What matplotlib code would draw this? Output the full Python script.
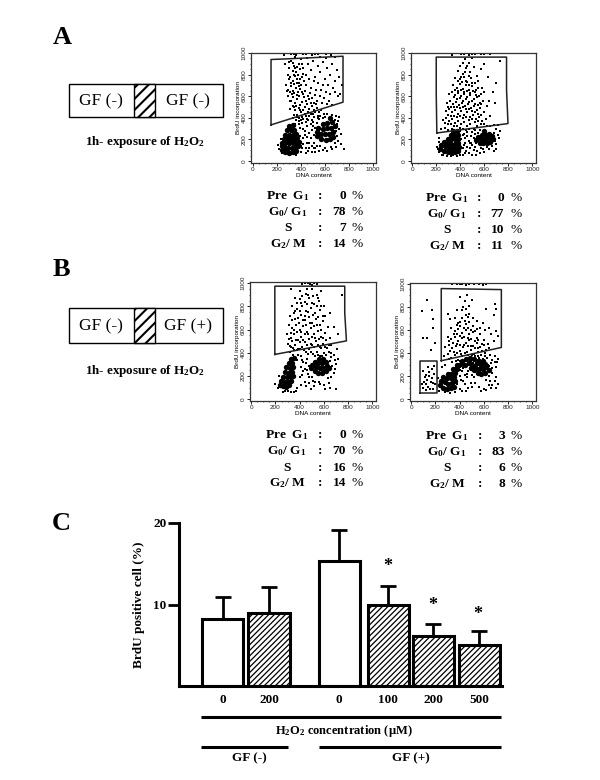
import numpy as np
import matplotlib
matplotlib.use('Agg')
import matplotlib.pyplot as plt
from matplotlib.patches import Rectangle

plt.rcParams['font.family'] = ['Liberation Serif', 'DejaVu Serif']
plt.rcParams['mathtext.fontset'] = 'custom'
plt.rcParams['mathtext.rm'] = 'Liberation Serif:bold'
plt.rcParams['mathtext.default'] = 'rm'

# bar chart values (panel C)
conc = ['0', '200', '0', '100', '200', '500']
brdu = [8.2, 9.0, 15.3, 10.0, 6.1, 5.0]
err_top = [10.9, 12.1, 19.1, 12.3, 7.6, 6.8]
hatched = [False, True, False, True, True, True]
bar_x = [223, 269, 339, 388, 433, 479]
star_x = [388, 433, 478]
star_y = [14.65, 9.85, 8.75]

# percentages under each cytogram
phases = ['Pre  G$_1$', 'G$_0$/ G$_1$', 'S', 'G$_2$/ M']
pct_a1 = [0, 78, 7, 14]
pct_a2 = [0, 77, 10, 11]
pct_b1 = [0, 70, 16, 14]
pct_b2 = [3, 83, 6, 8]

# cytogram gates
gate_a1 = [(150, 335), (150, 940), (270, 945), (750, 970), (750, 545), (150, 335)]
gate_a2 = [(205, 260), (200, 620), (200, 962), (785, 962), (785, 656), (797, 347), (205, 260)]
gate_b1 = [(195, 386), (195, 974), (772, 974), (772, 743), (786, 503), (195, 386)]
gate_b2 = [(248, 333), (248, 957), (744, 948), (744, 448), (248, 333)]
gate_b2_pre = [(74, 52), (74, 330), (212, 330), (212, 52), (74, 52)]

dense_a1 = [(245,100),(270,80),(300,75),(330,80),(355,90),(240,135),(265,125),(295,120),(325,120),(355,130),(375,140),(240,170),(270,165),(300,165),(330,165),(360,170),(380,180),
            (255,205),(285,205),(315,205),(345,205),(370,215),(270,245),(300,245),(330,245),(360,250),(285,285),(315,285),(345,290),(300,325),(330,330),
            (535,230),(570,200),(605,195),(640,205),(670,225),(530,270),(565,255),(600,250),(635,255),(670,270),(545,310),(580,300),(615,305),(650,310),(680,320),(585,345),(620,350),(655,360),(640,400)]
dense_a2 = [(235,110),(265,95),(295,85),(325,80),(355,85),(385,95),(240,145),(270,135),(300,125),(330,120),(360,125),(390,130),(265,175),(295,165),(325,160),(355,160),(385,170),
            (295,205),(325,200),(355,200),(385,205),(320,240),(350,240),(380,240),(340,275),(370,280),
            (530,195),(560,170),(590,165),(620,165),(650,180),(675,200),(545,220),(575,205),(605,205),(635,210),(665,230),(580,245),(610,245),(640,250),(600,275)]
dense_b1 = [(235,125),(260,110),(290,105),(315,120),(245,160),(275,150),(305,150),(330,160),(265,195),(295,190),(325,190),(345,200),(280,235),(310,230),(340,235),(290,275),(320,270),(345,280),(310,315),(340,315),(325,350),(350,355),
            (495,265),(525,240),(555,225),(585,225),(615,240),(640,265),(505,295),(535,275),(565,265),(595,270),(625,285),(525,325),(555,310),(585,310),(615,320),(560,345),(590,345)]
dense_b2 = [(240,125),(265,100),(295,90),(325,95),(350,110),(245,160),(275,145),(305,135),(335,140),(360,155),(265,195),(295,180),(325,180),(355,190),(300,220),(330,220),(360,225),
            (345,260),(375,265),(380,300),(410,305),(420,335),(450,345),(485,355),(520,345),(560,335),(440,300),(480,310),
            (490,270),(520,250),(550,225),(580,215),(610,230),(640,250),(500,300),(530,280),(560,260),(590,260),(620,275),(540,315),(575,300),(605,305),(590,335)]

# scattered events
cloud_a1 = [(260,985),(300,1000),(340,995),(380,1000),(420,990),(470,1000),(520,995),(560,1000),(610,990),(270,900),(300,860),(320,930),(340,880),(360,820),(380,900),(400,940),(420,860),(440,800),(460,900),(480,840),(500,930),(520,780),(540,880),(560,820),(580,920),(600,760),(620,860),(640,800),(660,900),(680,740),(700,840),(720,780),(740,700),
            (290,800),(310,780),(330,740),(345,800),(365,760),(385,720),(405,780),(425,740),(445,700),(465,760),(485,680),(505,740),(525,660),(545,720),(565,660),(585,700),(605,640),(625,700),(645,620),(665,680),(685,640),(705,600),(725,620),
            (275,700),(295,660),(315,690),(335,650),(355,680),(375,640),(395,670),(415,620),(435,650),(455,600),(475,630),(495,580),(515,610),(535,560),(555,600),(575,540),(595,580),(615,530),(635,560),(655,520),
            (290,600),(310,560),(330,590),(350,540),(370,570),(390,520),(410,550),(430,500),(450,530),(470,480),(490,510),(510,470),(530,490),(550,450),(570,470),(590,440),(310,480),(330,510),(350,470),(370,430),(390,470),(410,410),(430,440),(450,390),(470,420),(490,380),(510,410),(530,350),(550,390),
            (330,400),(360,380),(350,340),(380,340),(410,350),(430,280),(450,320),(470,260),(490,290),(420,210),(450,170),(480,210),(510,170),(520,120),(470,120),(410,120),(400,80),(440,70),(360,60),(240,70),(220,110),(210,150),(230,200),(700,340),(720,300),(700,230),(730,160),(760,110),(680,170),(650,130),(600,120),(560,140),(690,420),(660,430),(620,440)]
extra_a1 = [(280,1000),(320,990),(360,985),(400,1000),(445,995),(495,985),(540,990),(585,1000),(650,985),(680,960),(610,950),(555,960),(450,950),(350,960),(300,920),(330,905),(350,860),(370,870),(395,850),(410,900),(330,830),(350,790),(375,800),(395,760),(415,810),(300,760),(320,720),(345,710),(365,720),(380,690),(400,700),(285,650),(305,640),(325,620),(345,630),(365,610),(385,600),(405,640),(425,590),(445,560),(465,570),(485,540),(505,540),(525,530),(320,560),(340,500),(360,510),(380,490),(400,450),(420,470),(440,420),(460,450),(480,440),(500,440),(520,450),(540,420),(560,420),(580,400),(600,410),(630,400),
            (340,430),(365,410),(385,400),(400,380),(420,390),(440,360),(460,380),(480,340),(500,360),(520,310),(540,400),(395,310),(415,300),(430,240),(450,220),(470,170),(490,140),(510,240),(380,370),(400,180),(420,160),(440,120),(460,90),(490,80),(520,80),(550,90),(580,100),(620,90),(660,110),(690,130),(710,190),(690,280),(710,370),(730,250),(715,410),(680,380),(530,140),(500,320),(510,120),(400,140),(395,230)]
cloud_a2 = [(330,985),(370,1000),(410,990),(450,1000),(500,990),(550,1000),(600,995),(650,990),(730,930),(600,900),(500,950),(440,940),(470,910),(400,880),(380,830),(420,810),(450,860),(480,820),(510,870),(540,790),(570,850),(360,770),(400,760),(430,780),(460,730),(490,770),(520,720),(550,740),(580,680),(630,780),(670,640),(700,720),
            (340,700),(370,680),(400,710),(425,670),(445,700),(470,660),(495,690),(520,640),(545,680),(570,620),(600,640),(640,560),(690,540),(310,620),(335,640),(360,610),(385,630),(410,600),(435,620),(460,590),(485,610),(510,570),(535,590),(560,540),(590,560),(620,510),
            (290,540),(315,560),(340,530),(365,550),(390,520),(415,540),(440,510),(465,530),(490,490),(515,510),(540,470),(565,490),(595,450),(280,460),(305,480),(330,450),(355,470),(380,440),(405,460),(430,430),(455,450),(480,410),(505,430),(530,390),(555,410),(580,370),(610,390),(650,420),(260,380),(285,400),(310,370),(335,390),(360,350),(385,370),(410,340),(435,360),(460,320),(485,340),(510,300),(535,320),(560,290),(240,300),(270,310),(300,290),(330,300),
            (400,280),(430,250),(460,270),(490,230),(520,250),(410,200),(440,170),(470,190),(500,150),(530,170),(420,120),(450,90),(480,120),(510,100),(540,90),(570,120),(600,80),(640,110),(680,90),(700,160),(720,210),(680,260),(700,300),(730,280),(420,60),(370,50),(320,50),(260,60),(220,80),(210,130),(220,180)]
extra_a2 = [(390,1000),(430,995),(475,985),(525,995),(575,990),(625,1000),(420,905),(460,880),(440,820),(470,790),(410,780),(385,740),(415,730),(445,745),(475,700),(500,720),(530,660),(355,660),(380,650),(405,660),(430,640),(455,650),(480,630),(505,650),(530,610),(555,600),(345,590),(370,570),(395,580),(420,560),(445,570),(470,550),(495,560),(520,530),(545,520),(570,530),(300,500),(325,500),(350,500),(375,500),(400,490),(425,500),(450,480),(475,480),(500,460),(525,450),(550,440),(575,430),(295,430),(320,420),(345,420),(370,410),(395,420),(420,400),(445,410),(470,380),(495,390),(520,360),(545,370),(570,340),(600,340),(275,350),(300,340),(325,340),(350,320),(375,320),(400,310),(425,300),(450,290),(475,300),(500,270),(525,290),(550,260),(620,320),(650,320),(680,330),
            (420,240),(440,210),(460,230),(480,170),(510,210),(430,150),(460,130),(490,170),(520,130),(400,150),(400,100),(440,70),(470,70),(500,60),(530,60),(560,70),(590,110),(620,130),(660,140),(690,190),(710,240),(710,330),(250,60),(290,50),(340,60),(395,60),(215,110),(225,210),(700,110)]
cloud_b1 = [(420,990),(470,1000),(500,985),(540,995),(330,950),(400,930),(450,910),(500,950),(540,900),(580,930),(750,900),(360,870),(400,860),(440,840),(480,870),(520,820),(560,850),(600,800),(340,800),(380,780),(420,800),(450,760),(490,790),(530,740),(570,770),(610,720),(650,740),
            (320,720),(350,740),(385,700),(415,730),(445,680),(475,710),(505,660),(535,690),(565,640),(595,670),(630,620),(680,620),(310,640),(340,610),(370,640),(400,600),(430,630),(460,580),(490,610),(520,560),(550,590),(580,540),(610,570),(650,530),(720,560),
            (295,560),(325,530),(355,560),(385,510),(415,540),(445,490),(475,520),(505,470),(535,500),(565,450),(595,480),(625,440),(660,470),(300,480),(330,450),(360,470),(390,430),(420,450),(450,410),(480,430),(510,390),(540,410),(570,370),(600,400),(640,410),(680,380),(710,430),
            (320,410),(345,380),(375,340),(410,370),(430,320),(460,350),(480,290),(440,260),(470,220),(500,190),(420,210),(440,150),(480,140),(520,110),(560,150),(600,120),(650,100),(700,90),(630,180),(680,230),(700,300),(720,350),(670,290),(660,400),(380,100),(350,60),(300,70),(260,60),(220,100),(230,200)]
extra_b1 = [(440,1000),(485,990),(520,1000),(460,950),(420,890),(470,900),(510,890),(550,870),(380,830),(410,830),(460,820),(500,830),(540,800),(580,800),(360,760),(400,760),(440,720),(470,750),(510,730),(550,710),(590,720),(340,680),(365,690),(395,660),(425,680),(455,640),(485,660),(515,630),(545,640),(575,600),(330,570),(350,600),(380,580),(410,580),(440,560),(470,560),(500,540),(530,530),(560,520),(590,530),(620,510),(310,520),(340,500),(370,510),(400,490),(430,510),(460,470),(490,480),(520,450),(550,470),(580,440),(610,450),(640,470),(320,460),(345,440),(375,420),(405,430),(435,420),(465,390),(495,410),(525,370),(555,380),(585,370),(615,380),(655,360),(350,420),(390,380),(420,340),(450,310),(410,280),(430,240),(460,250),(480,190),(510,160),(400,190),(415,120),(450,110),(490,90),(530,150),(570,130),(610,90),(640,140),(660,190),(690,260),(650,330),(690,340),(370,70),(330,60),(280,75),(200,130)]
cloud_b2 = [(130,860),(170,770),(90,760),(180,690),(180,620),(100,530),(130,530),(200,490),(160,430),(340,1000),(380,1000),(420,995),(480,1000),(560,995),(620,1000),(460,900),(400,880),(440,850),(500,860),(480,810),(690,820),(700,780),(680,730),(620,780),(300,740),(320,690),
            (380,770),(420,770),(450,730),(480,740),(510,700),(540,680),(590,660),(640,620),(360,700),(390,660),(420,700),(450,650),(480,670),(510,630),(540,610),(570,620),(610,600),(660,560),(700,590),(720,550),(330,620),(360,590),(390,610),(420,570),(450,600),(480,560),(510,580),(540,530),(570,560),(600,510),(630,480),(680,500),
            (300,540),(330,520),(360,540),(390,500),(420,530),(450,490),(480,510),(510,460),(540,490),(570,450),(600,470),(640,440),(280,450),(310,470),(340,440),(370,460),(400,420),(430,450),(460,410),(490,430),(520,390),(550,410),(580,380),(610,400),(650,380),(690,370),(720,350),(270,370),(300,390),(330,360),(360,380),(390,340),(420,370),(450,330),(480,350),(510,310),(540,340),(570,300),(600,330),(630,300),(660,310),(700,280),
            (250,280),(280,300),(370,280),(400,250),(430,270),(460,220),(490,250),(400,200),(430,160),(460,190),(490,140),(520,190),(640,200),(670,230),(690,160),(640,120),(600,90),(560,110),(700,100),(720,130),(400,90),(360,60),(320,55),(280,60),(230,70),(220,180),
            (100,100),(120,130),(140,110),(160,150),(130,170),(150,200),(170,180),(190,220),(110,190),(100,240),(170,260),(190,290),(140,280),(200,130),(180,90),(90,130),(120,80),(155,85)]
extra_b2 = [(400,1000),(450,990),(520,1000),(590,990),(430,800),(455,780),(470,710),(440,680),(405,670),(375,640),(405,630),(435,620),(465,620),(495,600),(525,590),(350,560),(375,560),(405,550),(435,540),(465,530),(495,520),(525,500),(555,510),(585,480),(315,500),(345,490),(375,480),(405,470),(435,470),(465,460),(495,460),(525,440),(555,440),(585,420),(615,430),(320,420),(350,410),(380,400),(410,390),(440,400),(470,380),(500,380),(530,370),(560,360),(590,350),(625,360),(665,340),(310,350),(340,320),(370,330),(400,330),(430,300),(460,300),(490,330),(520,300),(550,370),(610,370),(645,290),(670,270),(690,320),(710,320),(400,280),(420,240),(440,210),(470,240),(500,210),(410,170),(440,130),(470,100),(500,110),(530,140),(620,170),(650,160),(670,120),(660,95),(620,80),(580,75),(420,70),(450,75),(700,190),(380,130),(105,150),(125,210),(145,235),(180,140)]


def px_axes(fig, left, right, top, bottom):
    return fig.add_axes([left / 600, 1 - bottom / 780, (right - left) / 600, (bottom - top) / 780])


def cytogram(fig, box, dense, cloud, extra, gates, ylim, xlim):
    ax = px_axes(fig, *box)
    d = np.array(dense)
    c = np.array(cloud + extra)
    ax.scatter(d[:, 0], d[:, 1], s=15, c='k', lw=0)
    ax.scatter(c[:, 0], c[:, 1], s=2.4, c='k', lw=0, marker='s')
    for g in gates:
        g = np.array(g)
        ax.plot(g[:, 0], g[:, 1], c='#222222', lw=1.1)
    ax.set_xlim(xlim)
    ax.set_ylim(ylim)
    ax.set_xticks(np.arange(0, 1001, 200))
    ax.set_yticks(np.arange(0, 1001, 200))
    ax.set_xticks(np.arange(0, 1001, 50), minor=True)
    ax.set_yticks(np.arange(0, 1001, 50), minor=True)
    ax.tick_params(which='major', labelsize=4.6, length=2, width=0.7, pad=1, colors='#222222')
    ax.tick_params(which='minor', length=1, width=0.5, color='#222222')
    for lab in ax.get_xticklabels() + ax.get_yticklabels():
        lab.set_family('Liberation Sans')
    plt.setp(ax.get_yticklabels(), rotation=90, va='center')
    ax.set_xlabel('DNA content', fontsize=4.6, family='Liberation Sans', labelpad=0.5)
    ax.set_ylabel('BrdU incorporation', fontsize=4.6, family='Liberation Sans', labelpad=0.5)
    for s in ax.spines.values():
        s.set_linewidth(0.9)
        s.set_color('#333333')
    return ax


def stats(ov, pct, rows, x_label, x_colon, x_val, x_pct):
    for name, v, y in zip(phases, pct, rows):
        ov.text(x_label, y, name, ha='center', va='center', fontsize=9.6, fontweight='bold')
        ov.text(x_colon, y, ':', ha='center', va='center', fontsize=9.6, fontweight='bold')
        ov.text(x_val, y, str(v), ha='right', va='center', fontsize=9.6, fontweight='bold')
        ov.text(x_pct, y, '%', ha='center', va='center', fontsize=9.6)


def treatment(ov, top, bottom, right_label):
    ov.add_patch(Rectangle((69, top), 154, bottom - top, fc='w', ec='k', lw=1))
    plt.rcParams['hatch.linewidth'] = 1.5
    ov.add_patch(Rectangle((134, top), 21, bottom - top, fc='w', ec='k', lw=1, hatch='///'))
    ov.text(101, (top + bottom) / 2 + 1, 'GF (-)', ha='center', va='center', fontsize=12.5)
    ov.text(188, (top + bottom) / 2 + 1, right_label, ha='center', va='center', fontsize=12.5)


fig = plt.figure(figsize=(6, 7.8), dpi=100)

ov = fig.add_axes([0, 0, 1, 1], zorder=5)
ov.set_xlim(0, 600)
ov.set_ylim(780, 0)
ov.axis('off')

ov.text(53, 38, 'A', ha='left', va='center', fontsize=19, fontweight='bold')
ov.text(53, 270, 'B', ha='left', va='center', fontsize=19, fontweight='bold')
ov.text(52, 524, 'C', ha='left', va='center', fontsize=19, fontweight='bold')

treatment(ov, 84, 117, 'GF (-)')
treatment(ov, 308, 343, 'GF (+)')
ov.text(145, 142, '1h- exposure of H$_2$O$_2$', ha='center', va='center', fontsize=9.4, fontweight='bold')
ov.text(145, 371, '1h- exposure of H$_2$O$_2$', ha='center', va='center', fontsize=9.4, fontweight='bold')

cytogram(fig, (251, 376, 53, 163), dense_a1, cloud_a1, extra_a1, [gate_a1], (-18, 1000), (-17, 1025))
cytogram(fig, (411, 536, 53, 163), dense_a2, cloud_a2, extra_a2, [gate_a2], (-18, 1000), (-10, 1030))
cytogram(fig, (250, 376, 282, 401), dense_b1, cloud_b1, extra_b1, [gate_b1], (-15, 1010), (-10, 1030))
cytogram(fig, (410, 536, 283, 401), dense_b2, cloud_b2, extra_b2, [gate_b2, gate_b2_pre], (-15, 1005), (-10, 1030))

stats(ov, pct_a1, [196, 212, 228, 244], 288, 320, 346, 357)
stats(ov, pct_a2, [198, 214, 230, 246], 447, 479, 504, 516)
stats(ov, pct_b1, [435, 451, 468, 483], 287, 320, 346, 357)
stats(ov, pct_b2, [436, 452, 468, 484], 447, 480, 505, 516)

# panel C, x axis runs in figure pixels
ax = px_axes(fig, 179, 502, 523, 686)
ax.set_xlim(179, 502)
ax.set_ylim(0, 20)
plt.rcParams['hatch.linewidth'] = 0.9
for x, v, h in zip(bar_x, brdu, hatched):
    ax.bar(x, v, width=41, fc='w', ec='k', lw=2.2, hatch='//////' if h else None)
for x, v, t in zip(bar_x, brdu, err_top):
    ax.errorbar(x, v, yerr=[[0], [t - v]], c='k', lw=2, capsize=6, capthick=2, zorder=1)
for x, y in zip(star_x, star_y):
    ax.text(x, y, '*', ha='center', va='center', fontsize=13, fontweight='bold')
ax.spines['top'].set_visible(False)
ax.spines['right'].set_visible(False)
ax.spines['left'].set_linewidth(2.2)
ax.spines['bottom'].set_linewidth(2.2)
ax.set_yticks([10, 20])
ax.set_yticklabels(['10', '20'], fontsize=9.5, fontweight='bold')
ax.tick_params(axis='y', length=8, width=2, pad=1)
ax.set_xticks(bar_x)
ax.set_xticklabels(conc, fontsize=9.5, fontweight='bold')
ax.tick_params(axis='x', length=0, pad=6)
ax.set_ylabel('BrdU positive cell (%)', fontsize=9.5, fontweight='bold')
ax.yaxis.set_label_coords(-0.105, 0.5)

ov.plot([201, 501], [717, 717], c='k', lw=2.2, solid_capstyle='butt')
ov.plot([201, 288], [747, 747], c='k', lw=2.2, solid_capstyle='butt')
ov.plot([319, 501], [747, 747], c='k', lw=2.2, solid_capstyle='butt')
ov.text(344, 731, 'H$_2$O$_2$ concentration (\u00b5M)', ha='center', va='center', fontsize=9, fontweight='bold')
ov.text(249, 758, 'GF (-)', ha='center', va='center', fontsize=9.5, fontweight='bold')
ov.text(411, 758, 'GF (+)', ha='center', va='center', fontsize=9.5, fontweight='bold')

fig.savefig('out.png', dpi=100)
